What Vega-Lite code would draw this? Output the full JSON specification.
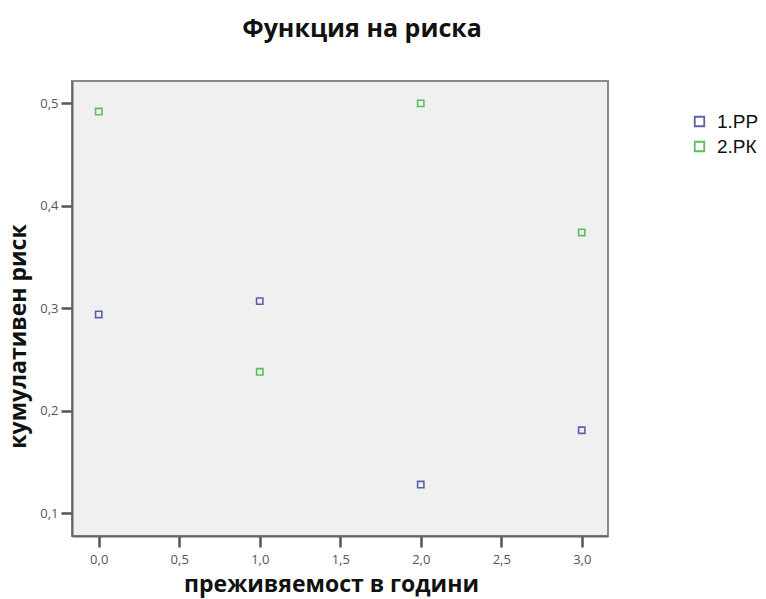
{
  "$schema": "https://vega.github.io/schema/vega-lite/v6.json",
  "width": 536,
  "height": 455,
  "autosize": {"type": "none"},
  "padding": {"left": 72, "top": 81, "right": 158, "bottom": 63},
  "background": "white",
  "title": {
    "text": "Функция на риска",
    "font": "Open Sans",
    "fontSize": 25,
    "fontWeight": "bold",
    "color": "#111",
    "anchor": "middle",
    "offset": 39,
    "dx": 22,
    "frame": "group"
  },
  "config": {
    "view": {"fill": "#f0f0f0", "stroke": "#8a8a8a", "strokeWidth": 2},
    "axis": {
      "grid": false,
      "domainColor": "#666",
      "domainWidth": 2,
      "tickColor": "#555",
      "tickWidth": 2.5,
      "tickSize": 11,
      "labelFont": "Open Sans",
      "labelFontSize": 13,
      "labelColor": "#555",
      "titleFont": "Open Sans",
      "titleFontSize": 23,
      "titleFontWeight": "bold",
      "titleColor": "#111"
    }
  },
  "data": {
    "values": [
      {"t": 0, "risk": 0.294, "group": "1.РР"},
      {"t": 1, "risk": 0.307, "group": "1.РР"},
      {"t": 2, "risk": 0.128, "group": "1.РР"},
      {"t": 3, "risk": 0.181, "group": "1.РР"},
      {"t": 0, "risk": 0.492, "group": "2.РК"},
      {"t": 1, "risk": 0.238, "group": "2.РК"},
      {"t": 2, "risk": 0.5, "group": "2.РК"},
      {"t": 3, "risk": 0.374, "group": "2.РК"}
    ]
  },
  "mark": {"type": "point", "shape": "square", "filled": false, "size": 40, "strokeWidth": 1.6, "opacity": 1},
  "encoding": {
    "x": {
      "field": "t",
      "type": "quantitative",
      "scale": {"domain": [-0.166, 3.163], "nice": false, "zero": false},
      "axis": {"values": [0, 0.5, 1, 1.5, 2, 2.5, 3], "format": ".1f", "labelExpr": "replace(datum.label, '.', ',')", "title": "преживяемост в години", "titlePadding": 7, "labelPadding": 6, "titleX": 259}
    },
    "y": {
      "field": "risk",
      "type": "quantitative",
      "scale": {"domain": [0.0778, 0.5218], "nice": false, "zero": false},
      "axis": {"values": [0.1, 0.2, 0.3, 0.4, 0.5], "format": ".1f", "labelExpr": "replace(datum.label, '.', ',')", "title": "кумулативен риск", "titlePadding": 9, "labelPadding": 3, "titleY": 255}
    },
    "color": {
      "field": "group",
      "type": "nominal",
      "scale": {"domain": ["1.РР", "2.РК"], "range": ["#5a62aa", "#5cbf5c"]},
      "legend": {
        "title": null,
        "orient": "none",
        "legendX": 618,
        "legendY": 31,
        "padding": 0,
        "labelFont": "Liberation Sans",
        "labelFontSize": 19,
        "labelColor": "#111",
        "symbolSize": 90,
        "symbolStrokeWidth": 1.8,
        "labelOffset": 8,
        "rowPadding": 5
      }
    }
  }
}
